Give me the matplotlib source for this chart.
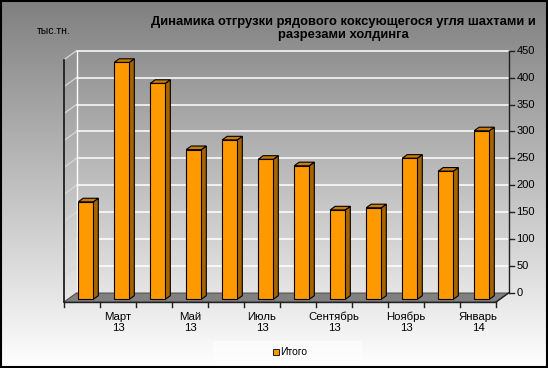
import numpy as np
import matplotlib
matplotlib.use("Agg")
import matplotlib.pyplot as plt
from matplotlib.patches import Polygon, Rectangle

plt.rcParams['font.family'] = ['Liberation Sans', 'DejaVu Sans']

# ---- data ----
categories = ["Февраль\n13", "Март\n13", "Апрель\n13", "Май\n13", "Июнь\n13", "Июль\n13",
              "Август\n13", "Сентябрь\n13", "Октябрь\n13", "Ноябрь\n13", "Декабрь\n13", "Январь\n14"]
values = [181, 440, 401, 278, 296, 260, 248, 166, 170, 262, 238, 313]
yticks = [0, 50, 100, 150, 200, 250, 300, 350, 400, 450]
title = "Динамика отгрузки рядового коксующегося угля шахтами и\nразрезами холдинга"
unit_label = "тыс.тн."
series_name = "Итого"

W, H = 548, 368
fig = plt.figure(figsize=(W / 100, H / 100), dpi=100)

# background gradient
bg = fig.add_axes([0, 0, 1, 1], zorder=-10)
grad = np.linspace(0.5, 1.0, 256).reshape(-1, 1)
bg.imshow(np.dstack([grad, grad, grad]), aspect='auto', extent=[0, 1, 0, 1], origin='upper')
bg.set_xlim(0, 1); bg.set_ylim(0, 1)
bg.axis('off')
# legend white box
bg.add_patch(Rectangle((213 / W, 0), (362 - 213) / W, (H - 341) / H, facecolor='white',
                       edgecolor='none', alpha=0.6))

# main axes: front plane
n = len(values)
x0_px, y0_px = 64, 302
cat_px = 36.0
val_px = 0.5384
ax = fig.add_axes([x0_px / W, (H - y0_px) / H, n * cat_px / W, 450 * val_px / H])
ax.set_xlim(0, n)
ax.set_ylim(0, 450)
ax.axis('off')

DX = 12.5 / cat_px
DY = 9.0 / val_px
ymax = yticks[-1]

# floor
ax.add_patch(Polygon([(0, 0), (n, 0), (n + DX, DY), (DX, DY)], closed=True,
                     facecolor='#808080', edgecolor='#505050', lw=0.8, zorder=1, clip_on=False))

# back wall gridlines
for v in yticks:
    ax.plot([DX, n + DX], [v + DY, v + DY], color='white', lw=1.1, zorder=0.5, clip_on=False)
    ax.plot([0, DX], [v, v + DY], color='#d8d8d8', lw=0.9, zorder=0.5, clip_on=False)
# wall left edge
ax.plot([DX, DX], [DY, ymax + DY], color='white', lw=1.0, zorder=0.6, clip_on=False)

# left front axis line
ax.plot([0, 0], [0, ymax], color='#202020', lw=1.3, zorder=3, clip_on=False)
# category axis
ax.plot([0, n], [0, 0], color='#202020', lw=1.0, zorder=3, clip_on=False)
ax.plot([n, n + DX], [0, DY], color='#202020', lw=1.0, zorder=3, clip_on=False)
for i in range(n + 1):
    ax.plot([i, i], [0, -5 / val_px], color='#202020', lw=1.0, zorder=3, clip_on=False)

# right value axis
ax.plot([n + DX, n + DX], [DY, ymax + DY], color='#202020', lw=1.0, zorder=3, clip_on=False)
for v in yticks:
    ax.plot([n + DX, n + DX + 5 / cat_px], [v + DY, v + DY], color='#202020', lw=1.0, zorder=3, clip_on=False)
    ax.text(n + DX + 8 / cat_px, v + DY, str(v), ha='left', va='center', fontsize=8, color='black')

# bars
bw = 0.42
d0 = 0.3
dd = 0.4
front_c = '#FF9900'
side_c = '#A86400'
top_c = '#CC7A00'
for i, v in enumerate(values):
    xc = i + 0.5 + d0 * DX
    yb = d0 * DY
    xl, xr = xc - bw / 2, xc + bw / 2
    ex, ey = dd * DX, dd * DY
    z = 5 + i * 0.01
    ax.add_patch(Polygon([(xr, yb), (xr + ex, yb + ey), (xr + ex, yb + ey + v), (xr, yb + v)],
                         closed=True, facecolor=side_c, edgecolor='black', lw=0.8, zorder=z, clip_on=False))
    ax.add_patch(Polygon([(xl, yb + v), (xr, yb + v), (xr + ex, yb + v + ey), (xl + ex, yb + v + ey)],
                         closed=True, facecolor=top_c, edgecolor='black', lw=0.8, zorder=z, clip_on=False))
    ax.add_patch(Rectangle((xl, yb), bw, v, facecolor=front_c, edgecolor='black', lw=0.8,
                           zorder=z + 0.001, clip_on=False))

# category labels (every other)
for i, lab in enumerate(categories):
    if i % 2 == 1:
        ax.annotate(lab, xy=(i + 0.5, 0), xycoords='data', xytext=(0, -7),
                    textcoords='offset points', ha='center', va='top', fontsize=8.2,
                    linespacing=1.15, color='black')

# title and unit label
fig.text(343 / W, 1 - 28.5 / H, title, ha='center', va='center', fontsize=9.4,
         fontweight='bold', linespacing=1.1, color='black')
fig.text(37 / W, 1 - 31 / H, unit_label, ha='left', va='center', fontsize=7.5, color='black')

# legend
fig.patches.append(Rectangle((273 / W, 1 - 355 / H), 6 / W, 6 / H, transform=fig.transFigure,
                             facecolor=front_c, edgecolor='black', lw=0.6, figure=fig))
fig.text(280 / W, 1 - 352 / H, series_name, ha='left', va='center', fontsize=7.5, color='black')

# border
fig.patches.append(Rectangle((0.001, 0.002), 0.997, 0.996, transform=fig.transFigure,
                             facecolor='none', edgecolor='black', lw=1.5, figure=fig))

fig.savefig('out.png', dpi=100)
